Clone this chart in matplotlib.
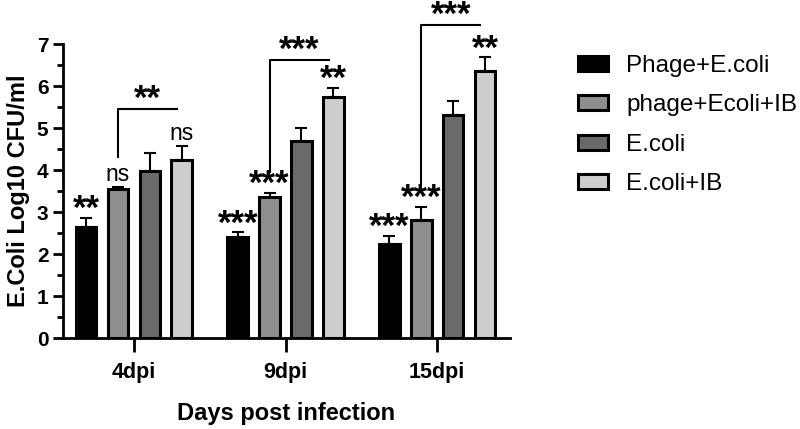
import numpy as np
import matplotlib.pyplot as plt

plt.rcParams['font.family'] = ['Liberation Sans', 'DejaVu Sans']

groups = ['4dpi', '9dpi', '15dpi']
series = ['Phage+E.coli', 'phage+Ecoli+IB', 'E.coli', 'E.coli+IB']
colors = ['#000000', '#8e8e8e', '#6a6a6a', '#cdcdcd']

means = [
    [2.65, 2.40, 2.24],   # Phage+E.coli
    [3.55, 3.35, 2.81],   # phage+Ecoli+IB
    [3.98, 4.70, 5.31],   # E.coli
    [4.24, 5.73, 6.36],   # E.coli+IB
]
errs = [
    [0.21, 0.12, 0.19],
    [0.05, 0.11, 0.31],
    [0.42, 0.29, 0.33],
    [0.33, 0.23, 0.32],
]
marks = [
    ['**', '***', '***'],
    ['ns', '***', '***'],
    ['', '', ''],
    ['ns', '**', '**'],
]
bracket_marks = ['**', '***', '***']
bracket_y = [5.45, 6.63, 7.45]
bracket_bottom = [4.31, 3.96, 3.64]


def sig_text(ax, s, xpos, ypos, gap):
    # stars sit high in the font, so anchor on the baseline and pull down
    if s == 'ns':
        ax.annotate(s, (xpos, ypos), xytext=(0, gap + 0.5), textcoords='offset points',
                    ha='center', va='baseline', fontsize=16.5, annotation_clip=False)
    else:
        ax.annotate(s, (xpos, ypos), xytext=(0, gap - 5), textcoords='offset points',
                    ha='center', va='baseline', fontsize=25, fontweight='bold',
                    annotation_clip=False)


fig = plt.figure(figsize=(8, 4.29), dpi=100)
ax = fig.add_axes([63 / 800, 1 - 338 / 429, (510 - 63) / 800, 294 / 429])

x = np.arange(len(groups))
offsets = [-0.315, -0.105, 0.105, 0.315]
w = 0.135

for i in range(4):
    xs = x + offsets[i]
    ax.bar(xs, means[i], w, color=colors[i], edgecolor='black', linewidth=2.2,
           label=series[i], zorder=3)
    ax.errorbar(xs, means[i], yerr=[np.zeros(3), errs[i]], fmt='none',
                ecolor='black', elinewidth=1.5, capsize=4, capthick=1.5, zorder=2)
    for j in range(3):
        if marks[i][j]:
            sig_text(ax, marks[i][j], xs[j], means[i][j] + errs[i][j], 4)

# brackets
for j in range(3):
    x1 = x[j] + offsets[1]
    x2 = x[j] + offsets[3] - 0.03
    ax.plot([x1, x1, x2], [bracket_bottom[j], bracket_y[j], bracket_y[j]],
            color='black', lw=1.5, clip_on=False)
    sig_text(ax, bracket_marks[j], (x1 + x2) / 2, bracket_y[j], 5)

ax.set_xlim(-0.467, 2.48)
ax.set_ylim(0, 7)
ax.set_yticks(range(8))
ax.set_yticks(np.arange(0.5, 7, 1), minor=True)
ax.set_xticks(x)
ax.set_xticklabels(groups, fontsize=15.5, fontweight='bold')
for lab in ax.get_yticklabels():
    lab.set_fontweight('bold')
    lab.set_fontsize(15)
ax.tick_params(axis='y', which='major', width=2, length=7)
ax.tick_params(axis='y', which='minor', width=2, length=4)
ax.tick_params(axis='x', width=2, length=10, pad=7)
for s in ['top', 'right']:
    ax.spines[s].set_visible(False)
for s in ['left', 'bottom']:
    ax.spines[s].set_linewidth(2)

ax.set_ylabel('E.Coli Log10 CFU/ml', fontsize=17, fontweight='bold', labelpad=5)
ax.set_xlabel('Days post infection', fontsize=17, fontweight='bold', labelpad=14)

fig.legend(loc='upper left', bbox_to_anchor=(556 / 800, 1 - 33 / 429), frameon=False,
           fontsize=17.5, handlelength=1.25, handleheight=0.55, labelspacing=0.72,
           handletextpad=0.75, borderpad=0.4)

fig.savefig('out.png', dpi=100)
